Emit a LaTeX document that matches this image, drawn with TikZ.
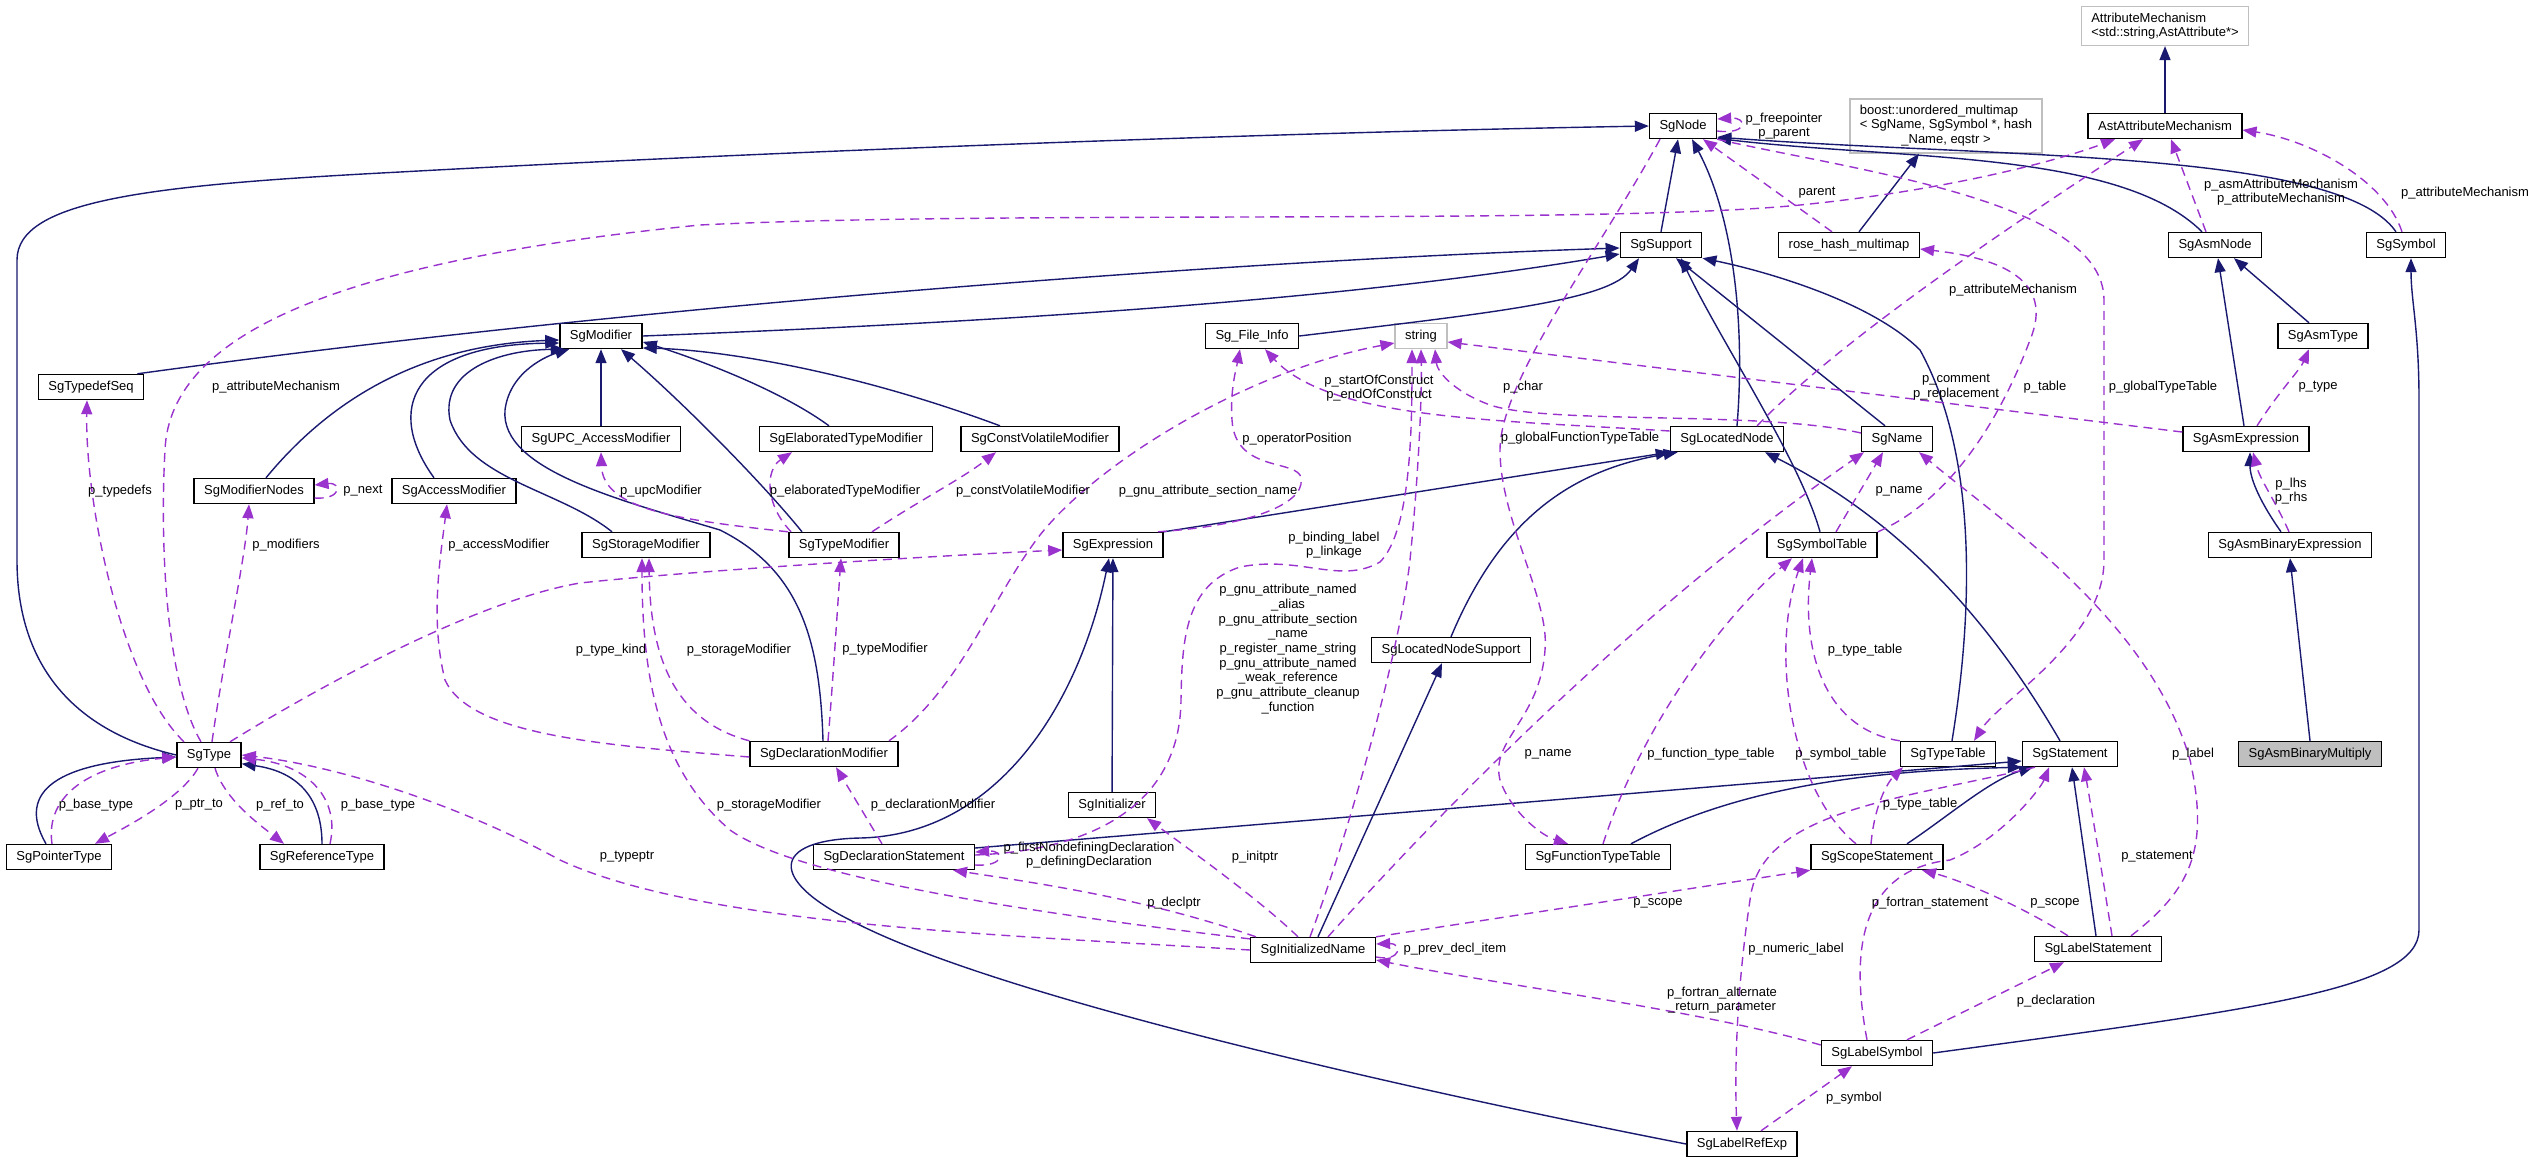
\documentclass[tikz,border=0pt]{standalone}
\usepackage{fontspec}
\setmainfont{Liberation Sans}
\usetikzlibrary{arrows.meta}
\definecolor{navyline}{HTML}{191970}
\definecolor{orchidline}{HTML}{9A32CD}
\definecolor{boxgrey}{HTML}{BFBFBF}

\tikzset{
  cls/.style={draw=black,fill=white,line width=1.4pt,minimum height=25pt,inner xsep=10pt,inner ysep=2pt,font=\fontsize{13}{14.7}\selectfont},
  extcls/.style={cls,draw=boxgrey},
  inherit/.style={draw=navyline,line width=1.4pt,-{Triangle[length=14pt,width=11pt]}},
  member/.style={draw=orchidline,line width=1.4pt,dash pattern=on 9pt off 6pt,-{Triangle[length=14pt,width=11pt]}},
  lbl/.style={align=center,inner sep=0pt,font=\fontsize{13}{14.7}\selectfont},
}

\begin{document}
\begin{tikzpicture}[x=1pt,y=-1pt]
  \useasboundingbox (0,0) rectangle (2536,1163);

  %top row
  \node[extcls,align=left,inner ysep=6pt] (attrmech) at (2165,26) {AttributeMechanism\\<std::string,AstAttribute*>};
  \node[cls] (sgnode) at (1683,126) {SgNode};
  \node[extcls,inner ysep=5pt] (boostmap) at (1946,126) {\begin{tabular}{@{}l@{}}boost::unordered\_multimap\\< SgName, SgSymbol *, hash\\\multicolumn{1}{@{}c@{}}{\_Name, eqstr >}\end{tabular}};
  \node[cls] (astattr) at (2165,126) {AstAttributeMechanism};
  \node[cls] (sgsupport) at (1661,245) {SgSupport};
  \node[cls] (rosehash) at (1849,245) {rose\_hash\_multimap};
  \node[cls] (asmnode) at (2215,245) {SgAsmNode};
  \node[cls] (sgsymbol) at (2406,245) {SgSymbol};

  %modifiers
  \node[cls] (modifier) at (601,336) {SgModifier};
  \node[cls] (fileinfo) at (1252,336) {Sg\_File\_Info};
  \node[extcls] (str) at (1421,336) {string};
  \node[cls] (asmtype) at (2323,336) {SgAsmType};
  \node[cls] (typedefseq) at (91,387) {SgTypedefSeq};
  \node[cls] (upcmod) at (601,439) {SgUPC\_AccessModifier};
  \node[cls] (elabmod) at (846,439) {SgElaboratedTypeModifier};
  \node[cls] (cvmod) at (1040,439) {SgConstVolatileModifier};
  \node[cls] (locnode) at (1727,439) {SgLocatedNode};
  \node[cls] (sgname) at (1897,439) {SgName};
  \node[cls] (asmexpr) at (2246,439) {SgAsmExpression};
  \node[cls] (modnodes) at (254,491) {SgModifierNodes};
  \node[cls] (accmod) at (454,491) {SgAccessModifier};
  \node[cls] (stormod) at (646,545) {SgStorageModifier};
  \node[cls] (typemod) at (844,545) {SgTypeModifier};
  \node[cls] (expr) at (1113,545) {SgExpression};
  \node[cls] (symtab) at (1822,545) {SgSymbolTable};
  \node[cls] (asmbin) at (2290,545) {SgAsmBinaryExpression};
  \node[cls] (locsupport) at (1451,650) {SgLocatedNodeSupport};

  %bottom
  \node[cls] (sgtype) at (209,755) {SgType};
  \node[cls] (declmod) at (824,754) {SgDeclarationModifier};
  \node[cls] (typetable) at (1948,754) {SgTypeTable};
  \node[cls] (statement) at (2070,754) {SgStatement};
  \node[cls,fill=boxgrey] (asmmul) at (2310,754) {SgAsmBinaryMultiply};
  \node[cls] (initializer) at (1112,805) {SgInitializer};
  \node[cls] (ptrtype) at (59,857) {SgPointerType};
  \node[cls] (reftype) at (322,857) {SgReferenceType};
  \node[cls] (declstmt) at (894,857) {SgDeclarationStatement};
  \node[cls] (functab) at (1598,857) {SgFunctionTypeTable};
  \node[cls] (scopestmt) at (1877,857) {SgScopeStatement};
  \node[cls] (initname) at (1313,950) {SgInitializedName};
  \node[cls] (labelstmt) at (2098,949) {SgLabelStatement};
  \node[cls] (labelsym) at (1877,1053) {SgLabelSymbol};
  \node[cls] (labelref) at (1742,1144) {SgLabelRefExp};

  %inheritance
  \draw[inherit] (astattr) -- (attrmech);
  \draw[inherit] (sgsupport.north) -- ([xshift=-5pt]sgnode.south);
  \draw[inherit] ([xshift=10pt]locnode.north) .. controls (1745,330) and (1735,220) .. ([xshift=9pt]sgnode.south);
  \draw[inherit] ([xshift=-13pt]asmnode.north) .. controls (2120,150) and (1900,160) .. (sgnode.-20);
  \draw[inherit] ([xshift=-10pt]sgsymbol.north) .. controls (2340,150) and (2000,158) .. (sgnode.-18);
  \draw[inherit] (sgtype.west) .. controls (90,735) and (17,680) .. (17,560) -- (17,260) .. controls (17,200) and (150,185) .. (400,172) .. controls (800,150) and (1300,132) .. (sgnode.west);
  \draw[inherit] ([xshift=10pt]rosehash.north) -- ([xshift=-27pt]boostmap.south);
  \draw[inherit] ([xshift=-7pt]typedefseq.north east) .. controls (600,310) and (1200,262) .. ([yshift=-3pt]sgsupport.west);
  \draw[inherit] (modifier.east) .. controls (1000,322) and (1350,300) .. ([yshift=-9pt]sgsupport.west);
  \draw[inherit] (fileinfo.east) .. controls (1500,312) and (1610,300) .. ([xshift=-22pt]sgsupport.south);
  \draw[inherit] ([xshift=-12pt]sgname.north) -- ([xshift=15pt]sgsupport.south);
  \draw[inherit] ([xshift=-2pt]symtab.north) .. controls (1800,460) and (1720,340) .. ([xshift=20pt]sgsupport.south);
  \draw[inherit] ([xshift=4pt]typetable.north) .. controls (1975,600) and (1975,450) .. (1920,350) .. controls (1870,300) and (1760,270) .. (sgsupport.south east);
  \draw[inherit] ([xshift=12pt]modnodes.north) .. controls (330,400) and (420,345) .. ([yshift=-4pt]modifier.west);
  \draw[inherit] ([xshift=-20pt]accmod.north) .. controls (385,410) and (410,345) .. ([yshift=-7pt]modifier.west);
  \draw[inherit] ([xshift=-34pt]stormod.north) .. controls (560,490) and (470,480) .. (450,420) .. controls (440,370) and (500,350) .. (modifier.200);
  \draw[inherit] ([xshift=-1pt]declmod.north) .. controls (820,640) and (800,570) .. (720,530) .. controls (620,500) and (500,470) .. (505,410) .. controls (510,370) and (550,355) .. ([xshift=10pt]modifier.south west);
  \draw[inherit] (upcmod) -- (modifier);
  \draw[inherit] ([xshift=-42pt]typemod.north) .. controls (760,480) and (680,400) .. ([xshift=20pt]modifier.south);
  \draw[inherit] ([xshift=-17pt]elabmod.north) .. controls (780,390) and (700,360) .. (modifier.-8);
  \draw[inherit] ([xshift=-40pt]cvmod.north) .. controls (850,370) and (720,350) .. (modifier.-16);
  \draw[inherit] (expr.north east) -- (locnode.south west);
  \draw[inherit] (locsupport.north) .. controls (1500,520) and (1570,470) .. ([xshift=8pt]locnode.south west);
  \draw[inherit] ([xshift=-10pt]statement.north) .. controls (1990,620) and (1900,520) .. ([xshift=38pt]locnode.south);
  \draw[inherit] ([xshift=5pt]initname.north) -- ([xshift=-9pt]locsupport.south);
  \draw[inherit] (initializer) -- (expr);
  \draw[inherit] (labelref.west) .. controls (1450,1098) and (1000,1000) .. (850,920) .. controls (770,880) and (770,840) .. (860,838) .. controls (1000,835) and (1080,700) .. ([xshift=-4pt]expr.south);
  \draw[inherit] ([yshift=9pt]declstmt.east) -- ([yshift=-7pt]statement.west);
  \draw[inherit] ([xshift=33pt]functab.north) .. controls (1750,780) and (1900,770) .. (statement.south west);
  \draw[inherit] ([xshift=30pt]scopestmt.north) .. controls (1950,815) and (1990,780) .. ([xshift=-37pt]statement.south);
  \draw[inherit] ([xshift=-2pt]labelstmt.north) -- ([xshift=2pt]statement.south);
  \draw[inherit] ([xshift=-2pt]asmexpr.north) -- ([xshift=3pt]asmnode.south);
  \draw[inherit] ([xshift=-14pt]asmtype.north) -- ([xshift=19pt]asmnode.south);
  \draw[inherit] ([xshift=-9pt]asmbin.north) .. controls (2262,505) and (2250,480) .. ([xshift=4pt]asmexpr.south);
  \draw[inherit] (asmmul.north) -- (asmbin.south);
  \draw[inherit] (labelsym.east) .. controls (2250,1010) and (2419,990) .. (2419,930) -- (2419,400) .. controls (2419,330) and (2411,300) .. ([xshift=5pt]sgsymbol.south);
  \draw[inherit] ([xshift=-13pt]ptrtype.north) .. controls (15,790) and (60,762) .. ([yshift=-2pt]sgtype.west);
  \draw[inherit] (reftype.north) .. controls (322,800) and (300,772) .. (sgtype.-15);

  %members
  \draw[member] ([yshift=-5pt]sgnode.east) .. controls (1748,135) and (1748,117) .. ([yshift=7pt]sgnode.east);
  \draw[member] ([xshift=-8pt]sgtype.north) .. controls (165,680) and (160,540) .. (165,450) .. controls (170,330) and (350,260) .. (700,225) .. controls (1000,210) and (1600,225) .. (1800,205) .. controls (1950,190) and (2060,160) .. ([xshift=-50pt]astattr.south);
  \draw[member] ([xshift=-25pt]sgtype.north) .. controls (120,680) and (85,500) .. ([xshift=-4pt]typedefseq.south);
  \draw[member] ([xshift=3pt]sgtype.north) .. controls (225,650) and (245,560) .. ([xshift=-5pt]modnodes.south);
  \draw[member] ([xshift=21pt]sgtype.north) .. controls (330,680) and (480,600) .. (580,583) .. controls (700,570) and (950,555) .. ([yshift=-5pt]expr.west);
  \draw[member] ([xshift=-11pt]sgtype.south) .. controls (180,800) and (120,830) .. ([xshift=36pt]ptrtype.north);
  \draw[member] ([xshift=6pt]sgtype.south) .. controls (225,800) and (260,825) .. ([xshift=-38pt]reftype.north);
  \draw[member] ([xshift=-7pt]ptrtype.north) .. controls (45,795) and (90,765) .. ([yshift=-2pt]sgtype.west);
  \draw[member] ([xshift=8pt]reftype.north) .. controls (340,800) and (310,765) .. (sgtype.-5);
  \draw[member] ([yshift=-7pt]modnodes.east) .. controls (342,500) and (342,482) .. ([yshift=6pt]modnodes.east);
  \draw[member] ([yshift=-3pt]declmod.west) .. controls (600,745) and (470,735) .. (445,680) .. controls (430,620) and (440,560) .. ([xshift=-7pt]accmod.south);
  \draw[member] (declmod.north west) .. controls (670,720) and (650,650) .. ([xshift=3pt]stormod.south);
  \draw[member] ([xshift=4pt]declmod.north) .. controls (833,680) and (838,600) .. ([xshift=-3pt]typemod.south);
  \draw[member] ([xshift=65pt]declmod.north) .. controls (960,690) and (990,600) .. (1040,535) .. controls (1100,460) and (1250,370) .. ([yshift=-7pt]str.west);
  \draw[member] (typemod.north west) .. controls (680,520) and (603,510) .. (upcmod.south);
  \draw[member] ([xshift=3pt]typemod.north west) .. controls (765,505) and (765,470) .. ([xshift=-54pt]elabmod.south);
  \draw[member] ([xshift=28pt]typemod.north) .. controls (920,500) and (960,480) .. ([xshift=-44pt]cvmod.south);
  \draw[member] ([xshift=-12pt]declstmt.north) -- ([xshift=12pt]declmod.south);
  \draw[member] ([yshift=-8pt]declstmt.east) .. controls (1005,867) and (1005,850) .. ([yshift=5pt]declstmt.east);
  \draw[member] ([yshift=2pt]declstmt.east) .. controls (1100,850) and (1180,800) .. (1181,700) .. controls (1182,640) and (1185,585) .. (1240,567) .. controls (1300,555) and (1340,585) .. (1380,562) .. controls (1412,530) and (1412,420) .. ([xshift=-9pt]str.south);
  \draw[member] (initname.170) .. controls (1050,915) and (800,880) .. (730,830) .. controls (660,770) and (642,680) .. ([xshift=-4pt]stormod.south);
  \draw[member] (initname.west) .. controls (1000,935) and (700,925) .. (560,860) .. controls (450,800) and (330,765) .. (sgtype.east);
  \draw[member] ([xshift=6pt]initname.north west) .. controls (1150,900) and (1050,885) .. ([xshift=59pt]declstmt.south);
  \draw[member] ([xshift=-15pt]initname.north) .. controls (1260,900) and (1190,850) .. ([xshift=35pt]initializer.south);
  \draw[member] ([xshift=-3pt]initname.north) .. controls (1350,830) and (1400,650) .. (1410,560) .. controls (1418,480) and (1422,400) .. (str.south);
  \draw[member] ([xshift=15pt]initname.north) .. controls (1450,800) and (1650,600) .. ([xshift=-33pt]sgname.south);
  \draw[member] (initname.north east) -- (scopestmt.south west);
  \draw[member] ([yshift=-7pt]initname.east) .. controls (1402,962) and (1402,943) .. ([yshift=6pt]initname.east);
  \draw[member] ([yshift=8pt]locnode.west) .. controls (1500,420) and (1330,420) .. ([xshift=13pt]fileinfo.south);
  \draw[member] ([yshift=6pt]sgname.west) .. controls (1760,410) and (1550,425) .. (1490,405) .. controls (1450,390) and (1437,370) .. ([xshift=14pt]str.south);
  \draw[member] ([xshift=-6pt]expr.north east) .. controls (1260,525) and (1310,500) .. (1300,475) .. controls (1290,460) and (1235,470) .. (1232,420) .. controls (1230,390) and (1236,370) .. ([xshift=-12pt]fileinfo.south);
  \draw[member] ([xshift=14pt]symtab.north) -- ([xshift=-14pt]sgname.south);
  \draw[member] (symtab.north east) .. controls (1950,500) and (2000,420) .. (2030,340) .. controls (2055,280) and (2000,258) .. ([yshift=-4pt]rosehash.east);
  \draw[member] ([xshift=30pt]locnode.north) .. controls (1850,330) and (2050,200) .. ([xshift=-22pt]astattr.south);
  \draw[member] ([xshift=-9pt]asmnode.north) -- ([xshift=6pt]astattr.south);
  \draw[member] ([xshift=-4pt]sgsymbol.north) .. controls (2385,180) and (2310,140) .. ([yshift=-4pt]astattr.east);
  \draw[member] ([xshift=-17pt]rosehash.north) -- ([xshift=20pt]sgnode.south);
  \draw[member] ([xshift=-23pt]sgnode.south) .. controls (1600,250) and (1500,380) .. (1500,450) .. controls (1500,520) and (1550,600) .. (1545,650) .. controls (1540,720) and (1490,740) .. (1500,780) .. controls (1510,810) and (1540,835) .. ([xshift=-30pt]functab.north);
  \draw[member] (sgnode.south east) .. controls (1850,170) and (2104,200) .. (2104,300) -- (2104,560) .. controls (2104,640) and (2000,700) .. ([xshift=26pt]typetable.north);
  \draw[member] ([xshift=11pt]asmexpr.north) .. controls (2280,390) and (2300,370) .. ([xshift=-14pt]asmtype.south);
  \draw[member] ([yshift=7pt]asmexpr.west) -- ([yshift=-6pt]str.east);
  \draw[member] ([xshift=-1pt]asmbin.north) .. controls (2275,500) and (2260,480) .. ([xshift=7pt]asmexpr.south);
  \draw[member] ([xshift=5pt]functab.north) .. controls (1640,730) and (1720,620) .. ([xshift=-30pt]symtab.south);
  \draw[member] ([xshift=-21pt]scopestmt.north) .. controls (1790,790) and (1770,650) .. ([xshift=-19pt]symtab.south);
  \draw[member] (typetable.north west) .. controls (1830,730) and (1800,660) .. ([xshift=-10pt]symtab.south);
  \draw[member] ([xshift=-6pt]scopestmt.north) .. controls (1875,800) and (1890,780) .. ([xshift=-45pt]typetable.south);
  \draw[member] ([xshift=14pt]labelstmt.north) .. controls (2100,860) and (2090,800) .. ([xshift=14pt]statement.south);
  \draw[member] ([xshift=33pt]labelstmt.north) .. controls (2190,890) and (2210,850) .. (2190,760) .. controls (2150,620) and (2000,520) .. ([xshift=22pt]sgname.south);
  \draw[member] ([xshift=-30pt]labelstmt.north) .. controls (2020,905) and (1960,880) .. ([xshift=45pt]scopestmt.south);
  \draw[member] ([xshift=-10pt]labelsym.north) .. controls (1850,950) and (1860,870) .. (1950,860) .. controls (2000,840) and (2040,790) .. ([xshift=-21pt]statement.south);
  \draw[member] ([xshift=30pt]labelsym.north) -- ([xshift=-34pt]labelstmt.south);
  \draw[member] ([yshift=8pt]labelsym.west) .. controls (1700,1010) and (1500,985) .. ([yshift=-10pt]initname.east);
  \draw[member] ([xshift=19pt]labelref.north) -- ([xshift=-25pt]labelsym.south);
  \draw[member] ([xshift=-35pt]statement.south) .. controls (1900,800) and (1760,810) .. (1750,900) .. controls (1735,1000) and (1735,1080) .. ([xshift=-5pt]labelref.north);

  %labels
  \node[lbl] (lfree) at (1784,126) {p\_freepointer\\p\_parent};
  \node[lbl] (ltypeattr) at (276,387) {p\_attributeMechanism};
  \node[lbl] (ltypedefs) at (120,491) {p\_typedefs};
  \node[lbl] (lmodifiers) at (286,545) {p\_modifiers};
  \node[lbl] (lnext) at (363,491) {p\_next};
  \node[lbl] (ltypekind) at (611,650) {p\_type\_kind};
  \node[lbl] (lbasel) at (96,805) {p\_base\_type};
  \node[lbl] (lptrto) at (199,805) {p\_ptr\_to};
  \node[lbl] (lrefto) at (280,805) {p\_ref\_to};
  \node[lbl] (lbaser) at (378,805) {p\_base\_type};
  \node[lbl] (laccess) at (499,545) {p\_accessModifier};
  \node[lbl] (lstorone) at (739,650) {p\_storageModifier};
  \node[lbl] (ltypemod) at (885,649) {p\_typeModifier};
  \node[lbl] (lstortwo) at (769,805) {p\_storageModifier};
  \node[lbl] (ldeclmod) at (933,805) {p\_declarationModifier};
  \node[lbl] (ltypeptr) at (627,857) {p\_typeptr};
  \node[lbl] (lupc) at (661,491) {p\_upcModifier};
  \node[lbl] (lelab) at (845,491) {p\_elaboratedTypeModifier};
  \node[lbl] (lcv) at (1023,491) {p\_constVolatileModifier};
  \node[lbl] (lsection) at (1208,491) {p\_gnu\_attribute\_section\_name};
  \node[lbl] (loppos) at (1297,439) {p\_operatorPosition};
  \node[lbl] (lconstruct) at (1379,388) {p\_startOfConstruct\\p\_endOfConstruct};
  \node[lbl] (lchar) at (1523,387) {p\_char};
  \node[lbl] (lgft) at (1580,438) {p\_globalFunctionTypeTable};
  \node[lbl] (lbinding) at (1334,545) {p\_binding\_label\\p\_linkage};
  \node[lbl] (lgnu) at (1288,649) {p\_gnu\_attribute\_named\\\_alias\\p\_gnu\_attribute\_section\\\_name\\p\_register\_name\_string\\p\_gnu\_attribute\_named\\\_weak\_reference\\p\_gnu\_attribute\_cleanup\\\_function};
  \node[lbl] (lfirstnd) at (1089,855) {p\_firstNondefiningDeclaration\\p\_definingDeclaration};
  \node[lbl] (linitptr) at (1255,857) {p\_initptr};
  \node[lbl] (ldeclptr) at (1174,903) {p\_declptr};
  \node[lbl] (lnametwo) at (1548,754) {p\_name};
  \node[lbl] (lftt) at (1711,754) {p\_function\_type\_table};
  \node[lbl] (lsymtab) at (1841,754) {p\_symbol\_table};
  \node[lbl] (lttone) at (1865,650) {p\_type\_table};
  \node[lbl] (ltttwo) at (1920,804) {p\_type\_table};
  \node[lbl] (llabel) at (2193,754) {p\_label};
  \node[lbl] (lstmt) at (2157,857) {p\_statement};
  \node[lbl] (lscopeone) at (2055,903) {p\_scope};
  \node[lbl] (lfstmt) at (1930,903) {p\_fortran\_statement};
  \node[lbl] (lscopetwo) at (1658,903) {p\_scope};
  \node[lbl] (lnumlab) at (1796,949) {p\_numeric\_label};
  \node[lbl] (lprev) at (1455,949) {p\_prev\_decl\_item};
  \node[lbl] (lfalt) at (1722,1000) {p\_fortran\_alternate\\\_return\_parameter};
  \node[lbl] (ldecl) at (2056,1001) {p\_declaration};
  \node[lbl] (lsymbol) at (1854,1098) {p\_symbol};
  \node[lbl] (lnameone) at (1899,491) {p\_name};
  \node[lbl] (ltable) at (2045,387) {p\_table};
  \node[lbl] (lcomment) at (1956,387) {p\_comment\\p\_replacement};
  \node[lbl] (lgtt) at (2163,387) {p\_globalTypeTable};
  \node[lbl] (ltype) at (2318,387) {p\_type};
  \node[lbl] (llhs) at (2291,491) {p\_lhs\\p\_rhs};
  \node[lbl] (llocattr) at (2013,290) {p\_attributeMechanism};
  \node[lbl] (lparent) at (1817,193) {parent};
  \node[lbl] (lasmattr) at (2281,192) {p\_asmAttributeMechanism\\p\_attributeMechanism};
  \node[lbl] (lsymattr) at (2465,193) {p\_attributeMechanism};
\end{tikzpicture}
\end{document}
